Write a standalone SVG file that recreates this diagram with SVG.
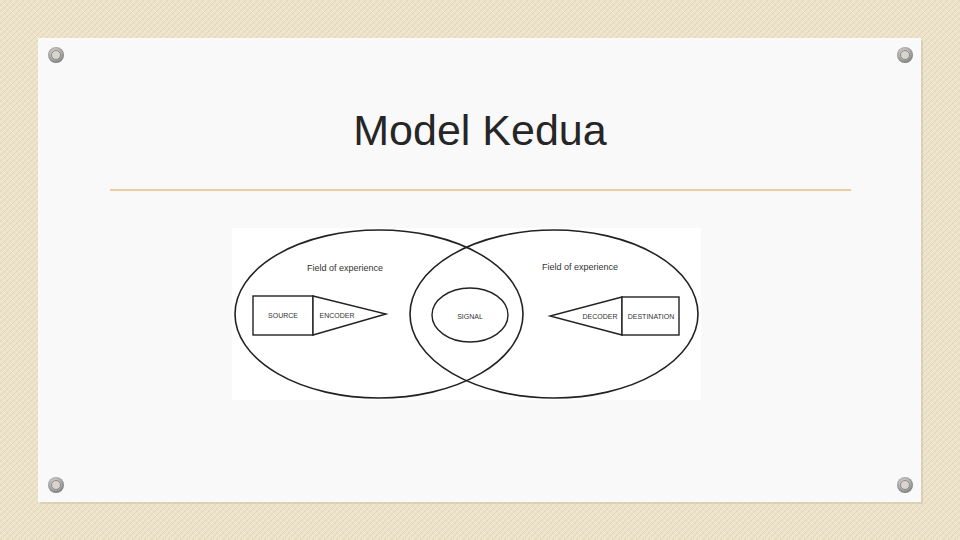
<svg xmlns="http://www.w3.org/2000/svg" width="960" height="540" viewBox="0 0 960 540">
<defs>
<pattern id="weave" width="6" height="6" patternUnits="userSpaceOnUse">
<rect width="6" height="6" fill="#ece3ca"/>
<path d="M0 6 L6 0" stroke="#e0d4b4" stroke-width="1"/>
<path d="M0 0 L6 6" stroke="#f2ebd8" stroke-width="0.6"/>
</pattern>
<radialGradient id="rivet" cx="0.45" cy="0.4" r="0.6">
<stop offset="0" stop-color="#eeeeee"/>
<stop offset="0.6" stop-color="#b0b0b0"/>
<stop offset="1" stop-color="#7a7a7a"/>
</radialGradient>
<style>
.ln{fill:none;stroke:#222;stroke-width:1.6}
.box{fill:#fff;stroke:#222;stroke-width:1.4}
.lbl{font-family:"Liberation Sans",Arial,sans-serif;font-size:7px;fill:#333;text-anchor:middle}
.fx{font-family:"Liberation Sans",Arial,sans-serif;font-size:9px;fill:#333;text-anchor:middle}
</style>
<g id="rv"><circle r="8" fill="url(#rivet)"/><circle r="4.5" fill="#d8d6cc" stroke="#8a8a8a" stroke-width="1"/></g>
</defs>
<rect width="960" height="540" fill="url(#weave)"/>
<rect x="40" y="40" width="883" height="464" fill="#c9bfa4" opacity="0.5"/>
<rect x="38" y="38" width="883" height="464" fill="#f9f9f9"/>
<use href="#rv" x="56" y="55"/>
<use href="#rv" x="905" y="55"/>
<use href="#rv" x="56" y="485"/>
<use href="#rv" x="905" y="485"/>
<text x="480" y="145" font-family="Liberation Sans,Arial,sans-serif" font-size="43" fill="#262626" text-anchor="middle">Model Kedua</text>
<line x1="110" y1="190" x2="851" y2="190" stroke="#e9cf9e" stroke-width="2"/>
<rect x="232" y="228" width="469" height="172" fill="#ffffff"/>
<g id="connectors">
<ellipse class="ln" cx="379" cy="314" rx="144" ry="84"/>
<ellipse class="ln" cx="554" cy="314" rx="144" ry="84"/>
</g>
<g id="field-left"><text class="fx" x="345" y="271">Field of experience</text></g>
<g id="field-right"><text class="fx" x="580" y="270">Field of experience</text></g>
<g id="source"><rect class="box" x="253" y="296" width="60" height="39"/><text class="lbl" x="283" y="318">SOURCE</text></g>
<g id="encoder"><polygon class="box" points="313,296 386,314 313,335"/><text class="lbl" x="337" y="318">ENCODER</text></g>
<g id="signal"><ellipse class="box" cx="470" cy="315" rx="38" ry="27"/><text class="lbl" x="470" y="319">SIGNAL</text></g>
<g id="decoder"><polygon class="box" points="622,297 550,316 622,335"/><text class="lbl" x="600" y="319">DECODER</text></g>
<g id="destination"><rect class="box" x="622" y="297" width="57" height="38"/><text class="lbl" x="651" y="319">DESTINATION</text></g>
</svg>
